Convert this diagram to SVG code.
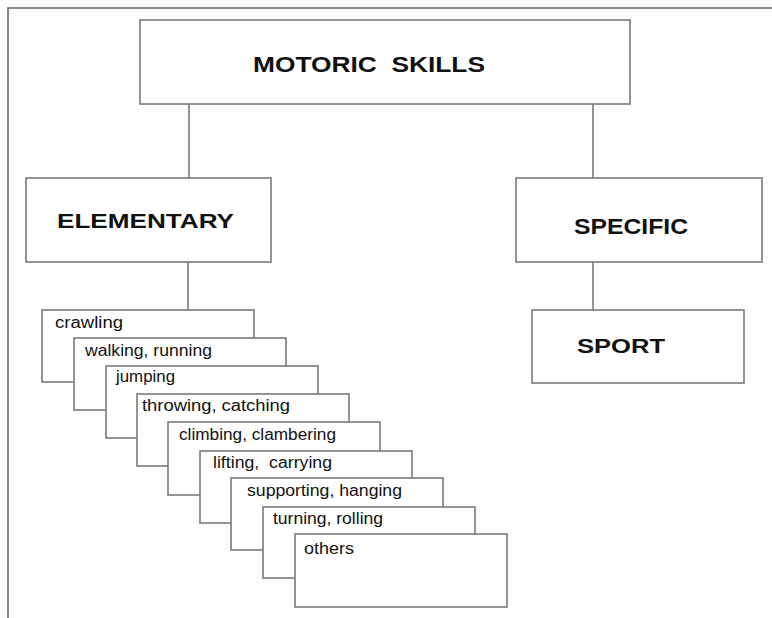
<svg xmlns="http://www.w3.org/2000/svg" width="772" height="618" viewBox="0 0 772 618">
<style>
.box{fill:#ffffff;stroke:#7a7a7a;stroke-width:1.6}
.frame{fill:none;stroke:#666666;stroke-width:1.6}
.conn{fill:none;stroke:#7a7a7a;stroke-width:1.6}
.big{font-family:"Liberation Sans",Arial,sans-serif;fill:#111111;white-space:pre}
.small{font-family:"Liberation Sans",Arial,sans-serif;font-size:16px;fill:#111111;white-space:pre}
</style>
<rect width="772" height="618" fill="#fdfdfd"/>
<path class="frame" d="M8,618 V8 H772"/>
<g id="connectors">
<line class="conn" x1="189" y1="104" x2="189" y2="178"/>
<line class="conn" x1="593" y1="104" x2="593" y2="178"/>
<line class="conn" x1="188" y1="262" x2="188" y2="310"/>
<line class="conn" x1="593" y1="262" x2="593" y2="310"/>
</g>
<g id="motoric">
<rect class="box" x="140" y="20" width="490" height="84"/>
<text class="big" x="253" y="72" font-size="22" font-weight="bold" xml:space="preserve" textLength="232" lengthAdjust="spacingAndGlyphs">MOTORIC  SKILLS</text>
</g>
<g id="elementary">
<rect class="box" x="26" y="178" width="245" height="84"/>
<text class="big" x="57" y="228" font-size="20" font-weight="bold" textLength="177" lengthAdjust="spacingAndGlyphs">ELEMENTARY</text>
</g>
<g id="specific">
<rect class="box" x="516" y="178" width="246" height="84"/>
<text class="big" x="574" y="234" font-size="22" font-weight="bold" textLength="114" lengthAdjust="spacingAndGlyphs">SPECIFIC</text>
</g>
<g id="sport">
<rect class="box" x="532" y="310" width="212" height="73"/>
<text class="big" x="577" y="353" font-size="20" font-weight="bold" textLength="88" lengthAdjust="spacingAndGlyphs">SPORT</text>
</g>
<g id="crawling">
<rect class="box" x="42" y="310" width="212" height="72"/>
<text class="small" x="55" y="328" textLength="68" lengthAdjust="spacingAndGlyphs">crawling</text>
</g>
<g id="walking">
<rect class="box" x="74" y="338" width="212" height="72"/>
<text class="small" x="85" y="356" textLength="127" lengthAdjust="spacingAndGlyphs">walking, running</text>
</g>
<g id="jumping">
<rect class="box" x="106" y="366" width="212" height="72"/>
<text class="small" x="116" y="382" textLength="59" lengthAdjust="spacingAndGlyphs">jumping</text>
</g>
<g id="throwing">
<rect class="box" x="137" y="394" width="212" height="72"/>
<text class="small" x="142" y="411" textLength="148" lengthAdjust="spacingAndGlyphs">throwing, catching</text>
</g>
<g id="climbing">
<rect class="box" x="168" y="422" width="212" height="73"/>
<text class="small" x="179" y="440" textLength="157" lengthAdjust="spacingAndGlyphs">climbing, clambering</text>
</g>
<g id="lifting">
<rect class="box" x="200" y="451" width="212" height="72"/>
<text class="small" x="213" y="468" xml:space="preserve" textLength="119" lengthAdjust="spacingAndGlyphs">lifting,  carrying</text>
</g>
<g id="supporting">
<rect class="box" x="231" y="478" width="212" height="72"/>
<text class="small" x="247" y="496" textLength="155" lengthAdjust="spacingAndGlyphs">supporting, hanging</text>
</g>
<g id="turning">
<rect class="box" x="263" y="507" width="212" height="71"/>
<text class="small" x="273" y="524" textLength="110" lengthAdjust="spacingAndGlyphs">turning, rolling</text>
</g>
<g id="others">
<rect class="box" x="295" y="534" width="212" height="73"/>
<text class="small" x="304" y="554" textLength="50" lengthAdjust="spacingAndGlyphs">others</text>
</g>
</svg>
